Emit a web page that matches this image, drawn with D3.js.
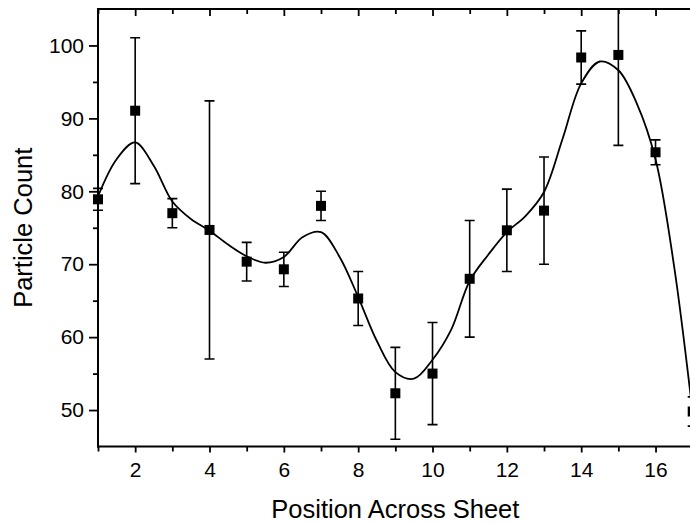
<!DOCTYPE html>
<html>
<head>
<meta charset="utf-8">
<script src="https://cdn.jsdelivr.net/npm/d3@7"></script>
<style>
  html, body { margin: 0; padding: 0; background: #fff; }
  svg { display: block; font-family: "Liberation Sans", Arial, sans-serif; }
</style>
</head>
<body>
<svg id="chart" width="690" height="523"></svg>
<script>
// ---- data ----
const positions = [1, 2, 3, 4, 5, 6, 7, 8, 9, 10, 11, 12, 13, 14, 15, 16, 17];
const counts    = [78.9, 91.05, 77.0, 74.7, 70.35, 69.3, 78.0, 65.3, 52.3, 55.0, 68.0, 74.65, 77.35, 98.35, 98.7, 85.35, 49.8];
const errors    = [1.5, 10, 2, 17.7, 2.65, 2.35, 2, 3.7, 6.3, 7, 8, 5.65, 7.35, 3.65, 12.4, 1.7, 2];
const fitX = [1, 1.5, 2, 2.5, 3, 3.5, 4, 4.5, 5, 5.5, 6, 6.5, 7, 7.5, 8, 8.5, 9, 9.5, 10, 10.5, 11, 11.5, 12, 12.5, 13, 13.5, 14, 14.5, 15, 15.5, 16, 16.5, 17];
const fitY = [79.3, 84.4, 86.7, 83.5, 78.6, 76.2, 74.6, 72.7, 71.1, 70.2, 71.0, 73.7, 74.4, 71.0, 65.5, 59.5, 55.2, 54.3, 56.9, 61.0, 67.7, 71.3, 74.4, 76.6, 79.9, 87.2, 94.8, 97.8, 96.6, 92.0, 84.4, 69.7, 49.5];
const yTickValues = [50, 60, 70, 80, 90, 100];
const yMinorTicks = [55, 65, 75, 85, 95];
const xTickValues = [2, 4, 6, 8, 10, 12, 14, 16];
const xMinorTicks = [1, 3, 5, 7, 9, 11, 13, 15, 17];
const xTitle = "Position Across Sheet";
const yTitle = "Particle Count";

// ---- layout ----
const svg = d3.select("#chart");
const mL = 98, mR = 692.7, mT = 9, mB = 446.5;
const x = d3.scaleLinear().domain([1, 17]).range([mL, mR]);
const y = d3.scaleLinear().domain([45, 105]).range([mB, mT]);

// clip
svg.append("defs").append("clipPath").attr("id", "clip")
  .append("rect").attr("x", 0).attr("y", mT).attr("width", 700).attr("height", mB - mT + 20);

const plot = svg.append("g").attr("clip-path", "url(#clip)");

// fit curve
const line = d3.line()
  .x((d, i) => x(fitX[i]))
  .y((d, i) => y(fitY[i]))
  .curve(d3.curveCatmullRom.alpha(0.5));
plot.append("path")
  .attr("d", line(fitX))
  .attr("fill", "none")
  .attr("stroke", "#000")
  .attr("stroke-width", 1.8);

// error bars
const eb = plot.append("g").attr("stroke", "#000").attr("stroke-width", 1.6);
positions.forEach((p, i) => {
  const cx = x(p), hi = y(counts[i] + errors[i]), lo = y(counts[i] - errors[i]);
  eb.append("line").attr("x1", cx).attr("x2", cx).attr("y1", hi).attr("y2", lo);
  eb.append("line").attr("x1", cx - 5).attr("x2", cx + 5).attr("y1", hi).attr("y2", hi);
  eb.append("line").attr("x1", cx - 5).attr("x2", cx + 5).attr("y1", lo).attr("y2", lo);
});

// markers
plot.append("g").selectAll("rect").data(positions).join("rect")
  .attr("x", d => x(d) - 5)
  .attr("y", (d, i) => y(counts[i]) - 5)
  .attr("width", 10).attr("height", 10)
  .attr("fill", "#000");

// ---- axes ----
const axisW = 2;
const gl = svg.append("g").attr("transform", `translate(${mL},0)`);
gl.call(d3.axisLeft(y).tickValues(yTickValues).tickSize(9).tickPadding(5).tickFormat(d3.format("d")));
gl.append("g").call(d3.axisLeft(y).tickValues(yMinorTicks).tickSize(5).tickFormat(""));
const gb = svg.append("g").attr("transform", `translate(0,${mB})`);
gb.call(d3.axisBottom(x).tickValues(xTickValues).tickSize(6).tickPadding(10).tickFormat(d3.format("d")));
gb.append("g").call(d3.axisBottom(x).tickValues(xMinorTicks).tickSize(5).tickFormat(""));
const gt = svg.append("g").attr("transform", `translate(0,${mT})`);
gt.call(d3.axisBottom(x).tickValues(xTickValues).tickSize(7).tickFormat(""));
gt.append("g").call(d3.axisBottom(x).tickValues(xMinorTicks).tickSize(5).tickFormat(""));

svg.selectAll(".domain").remove();
svg.selectAll(".tick line").attr("stroke", "#000").attr("stroke-width", 1.8);
svg.selectAll(".tick text").attr("fill", "#000").style("font-size", "21px")
  .style("font-family", "'Liberation Sans', Arial, sans-serif");

svg.append("line").attr("x1", mL).attr("x2", mL).attr("y1", mT - 1).attr("y2", mB + 1)
  .attr("stroke", "#000").attr("stroke-width", axisW);
svg.append("line").attr("x1", mL - 1).attr("x2", 690).attr("y1", mB).attr("y2", mB)
  .attr("stroke", "#000").attr("stroke-width", axisW);
svg.append("line").attr("x1", mL - 1).attr("x2", 690).attr("y1", mT).attr("y2", mT)
  .attr("stroke", "#000").attr("stroke-width", axisW);

// titles
svg.append("text")
  .attr("x", (mL + mR) / 2).attr("y", 518)
  .attr("text-anchor", "middle")
  .style("font-size", "25.5px")
  .attr("fill", "#000")
  .text(xTitle);
svg.append("text")
  .attr("transform", `translate(32,${(mT + mB) / 2}) rotate(-90)`)
  .attr("text-anchor", "middle")
  .style("font-size", "25.5px")
  .attr("fill", "#000")
  .text(yTitle);
</script>
</body>
</html>
